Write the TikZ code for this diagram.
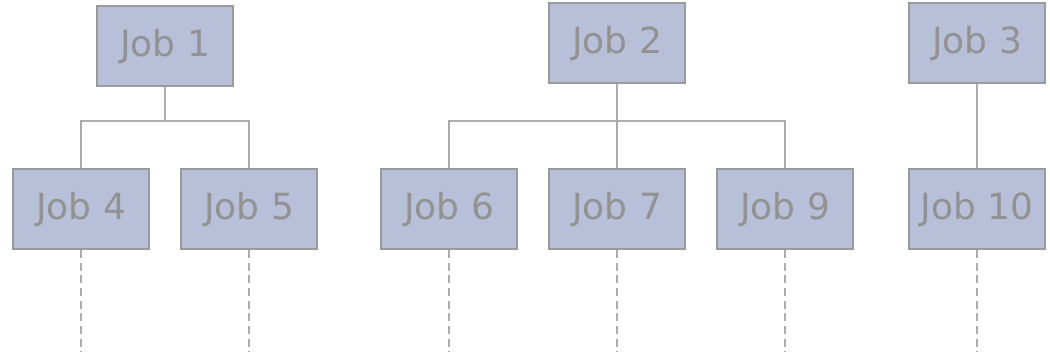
\documentclass[tikz,border=0pt]{standalone}
\usepackage{fontspec}
\setmainfont{DejaVu Sans}
\usepackage{tikz}

\definecolor{jobfill}{HTML}{B8BFD8}
\definecolor{jobline}{HTML}{9A9A9A}
\definecolor{jobtext}{HTML}{929292}
\definecolor{linkline}{HTML}{ADADAD}

\tikzset{
	jobbox/.style={draw=jobline, fill=jobfill, line width=1.5pt, text=jobtext,
		minimum width=102pt, minimum height=60pt, inner sep=0pt,
		font=\fontsize{27}{31}\selectfont},
	link/.style={draw=linkline, line width=1.4pt},
	tail/.style={draw=linkline, line width=1.4pt, dash pattern=on 6pt off 3.5pt}
}

\begin{document}
\begin{tikzpicture}[x=0.75pt,y=-0.75pt]
			\useasboundingbox (0,0) rectangle (1050,355);
			
			% top row
			\foreach \n/\x/\y in {1/165/46, 2/617/43, 3/977/43}{
				\node[jobbox] (j\n) at (\x,\y) {Job \n};
			}
			
			% bottom row
			\foreach \n/\x in {4/81, 5/249, 6/449, 7/617, 9/785, 10/977}{
				\node[jobbox] (j\n) at (\x,209) {Job \n};
				\coordinate (e\n) at (j\n.south |- 0,352);
				\draw[tail] (j\n.south) -- (e\n);
			}
			
			% bus points
			\coordinate (b1) at (165,121);
			\coordinate (b2) at (617,121);
			
			% edges
			\draw[link] (j1.south) -- (b1);
			\foreach \c in {4, 5}{
				\draw[link] (b1) -| (j\c.north);
			}
			\draw[link] (j2.south) -- (b2);
			\foreach \c in {6, 7, 9}{
				\draw[link] (b2) -| (j\c.north);
			}
			\draw[link] (j3.south) -- (j10.north);
\end{tikzpicture}
\end{document}
